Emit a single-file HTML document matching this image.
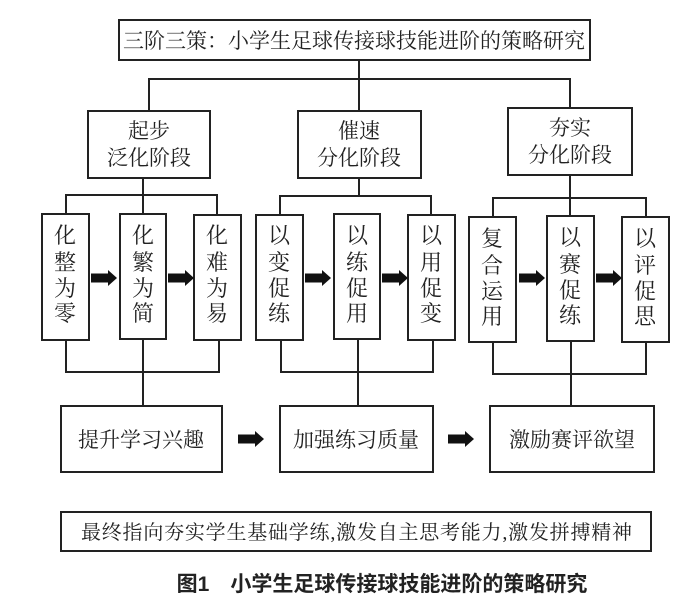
<!DOCTYPE html>
<html><head><meta charset="utf-8"><style>
html,body{margin:0;padding:0;background:#fff;}
svg{display:block;}
text{font-family:"Liberation Serif","Noto Serif CJK SC","Noto Sans CJK SC",serif;fill:#222;}
</style></head><body>
<svg width="700" height="613" viewBox="0 0 700 613" xmlns="http://www.w3.org/2000/svg">
<defs>
<g id="arr"><polygon points="0,-4.5 17,-4.5 17,-8 26,0 17,8 17,4.5 0,4.5" fill="#111"/></g>
</defs>
<g fill="none" stroke="#222" stroke-width="2">
<rect x="119" y="20" width="471" height="40" fill="#fff"/>
<line x1="359" y1="60" x2="359" y2="111"/>
<polyline points="149,111 149,79 570,79 570,108"/>
<rect x="88" y="111" width="122" height="67"/>
<rect x="298" y="111" width="123" height="67"/>
<rect x="508" y="108" width="124" height="67"/>
<line x1="143" y1="178" x2="143" y2="195"/>
<polyline points="66,214 66,195 217,195 217,215"/>
<line x1="143" y1="195" x2="143" y2="214"/>
<line x1="359" y1="178" x2="359" y2="196"/>
<polyline points="280,215 280,196 431,196 431,215"/>
<line x1="570" y1="175" x2="570" y2="216"/>
<polyline points="493,217 493,198 646,198 646,217"/>
<rect x="42" y="214" width="47" height="126"/>
<rect x="120" y="214" width="46" height="125"/>
<rect x="194" y="215" width="47" height="125"/>
<rect x="256" y="215" width="47" height="125"/>
<rect x="334" y="214" width="46" height="125"/>
<rect x="408" y="215" width="47" height="125"/>
<rect x="469" y="217" width="47" height="125"/>
<rect x="547" y="216" width="47" height="125"/>
<rect x="622" y="217" width="47" height="125"/>
<polyline points="66,340 66,372 219,372 219,340"/>
<line x1="143" y1="339" x2="143" y2="406"/>
<polyline points="281,340 281,372 433,372 433,340"/>
<line x1="358" y1="339" x2="358" y2="406"/>
<polyline points="493,342 493,374 646,374 646,342"/>
<line x1="571" y1="341" x2="571" y2="406"/>
<rect x="61" y="406" width="161" height="66"/>
<rect x="280" y="406" width="153" height="66"/>
<rect x="490" y="406" width="164" height="66"/>
<rect x="61" y="512" width="590" height="39"/>
</g>
<use href="#arr" x="91" y="278"/>
<use href="#arr" x="168" y="278"/>
<use href="#arr" x="305" y="278"/>
<use href="#arr" x="382" y="278"/>
<use href="#arr" x="519" y="278"/>
<use href="#arr" x="596" y="278"/>
<use href="#arr" x="238" y="439"/>
<use href="#arr" x="448" y="439"/>
<g font-size="21" text-anchor="middle">
<text x="354" y="48" font-size="21">三阶三策：小学生足球传接球技能进阶的策略研究</text>
<text x="149" y="138">起步</text><text x="149" y="165">泛化阶段</text>
<text x="359" y="138">催速</text><text x="359" y="165">分化阶段</text>
<text x="570" y="135">夯实</text><text x="570" y="162">分化阶段</text>
</g>
<g font-size="22" text-anchor="middle">
<text x="65" y="243">化</text><text x="65" y="270">整</text><text x="65" y="296">为</text><text x="65" y="321">零</text>
<text x="143" y="243">化</text><text x="143" y="270">繁</text><text x="143" y="296">为</text><text x="143" y="321">简</text>
<text x="217" y="243">化</text><text x="217" y="270">难</text><text x="217" y="296">为</text><text x="217" y="321">易</text>
<text x="279" y="243">以</text><text x="279" y="270">变</text><text x="279" y="296">促</text><text x="279" y="321">练</text>
<text x="357" y="243">以</text><text x="357" y="270">练</text><text x="357" y="296">促</text><text x="357" y="321">用</text>
<text x="431" y="243">以</text><text x="431" y="270">用</text><text x="431" y="296">促</text><text x="431" y="321">变</text>
<text x="492" y="246">复</text><text x="492" y="273">合</text><text x="492" y="299">运</text><text x="492" y="324">用</text>
<text x="570" y="245">以</text><text x="570" y="272">赛</text><text x="570" y="298">促</text><text x="570" y="323">练</text>
<text x="645" y="246">以</text><text x="645" y="273">评</text><text x="645" y="299">促</text><text x="645" y="324">思</text>
</g>
<g font-size="21" text-anchor="middle">
<text x="141" y="447">提升学习兴趣</text>
<text x="356" y="447">加强练习质量</text>
<text x="572" y="447">激励赛评欲望</text>
</g>
<text x="81" y="539" font-size="20" textLength="551" lengthAdjust="spacing">最终指向夯实学生基础学练,激发自主思考能力,激发拼搏精神</text>
<text x="382" y="591" font-size="21" font-weight="bold" text-anchor="middle" style="font-family:'Liberation Sans','Noto Sans CJK SC',sans-serif">图1　小学生足球传接球技能进阶的策略研究</text>
</svg>
</body></html>
